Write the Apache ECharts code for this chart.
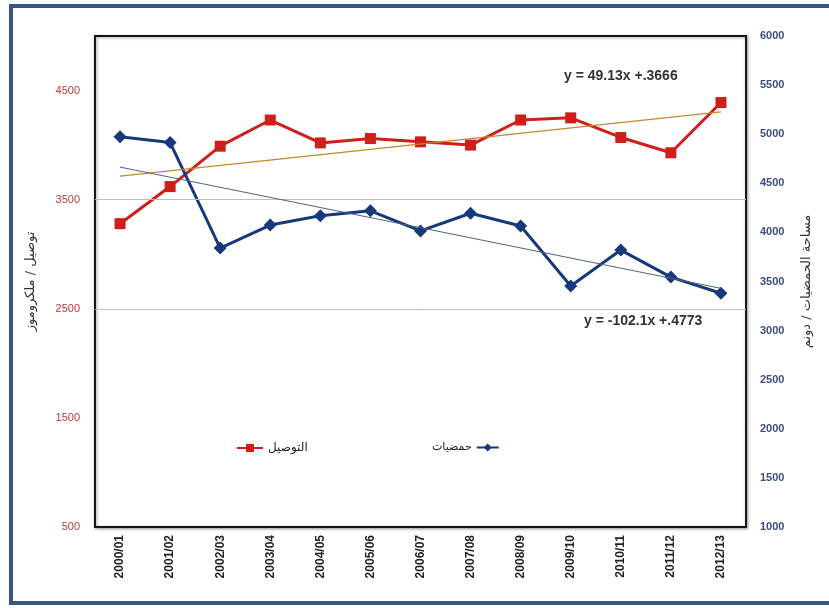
<!DOCTYPE html>
<html lang="ar">
<head>
<meta charset="UTF-8">
<title>التوصيل و حمضيات</title>
<script src="https://cdn.jsdelivr.net/npm/echarts@6/dist/echarts.min.js"></script>
<style>
  html, body { margin: 0; padding: 0; background: #fff; }
  #chart { width: 829px; height: 608px; }
</style>
</head>
<body>
<div id="chart"></div>
<script>
var seasons = ['2000/01', '2001/02', '2002/03', '2003/04', '2004/05', '2005/06', '2006/07',
               '2007/08', '2008/09', '2009/10', '2010/11', '2011/12', '2012/13'];
// التوصيل (left axis)
var conductivity = [3280, 3620, 3990, 4230, 4020, 4060, 4030, 4000, 4230, 4250, 4070, 3930, 4390];
// حمضيات (right axis)
var citrusArea = [4975, 4915, 3840, 4075, 4170, 4220, 4015, 4195, 4065, 3455, 3820, 3545, 3380];
// trend line end values (first and last season)
var conductivityTrend = [3715, 4305];
var citrusTrend = [4665, 3430];
var gridValues = [2500, 3500];

var chart = echarts.init(document.getElementById('chart'));
var arFont = 'DejaVu Sans';

var option = {
  backgroundColor: '#fff',
  animation: false,
  grid: {
    left: 95, right: 83, top: 36, bottom: 81,
    show: true, borderColor: '#151515', borderWidth: 2,
    shadowColor: 'rgba(0,0,0,0.35)', shadowBlur: 3, shadowOffsetX: 1, shadowOffsetY: 1,
    backgroundColor: '#fff'
  },
  graphic: [
    { type: 'rect', shape: { x: 11, y: 6, width: 840, height: 597 },
      style: { fill: 'none', stroke: '#3b5488', lineWidth: 4 }, z: 100 },
    { type: 'text', left: 564, top: 69,
      style: { text: 'y = 49.13x +.3666', font: 'bold 14px "Liberation Sans"', fill: '#333' } },
    { type: 'text', left: 584, top: 314,
      style: { text: 'y = -102.1x +.4773', font: 'bold 14px "Liberation Sans"', fill: '#333' } }
  ],
  legend: [
    { data: ['التوصيل'], left: 231, top: 437, align: 'left', itemWidth: 26, itemHeight: 10,
      itemGap: 4, textStyle: { fontFamily: arFont, fontSize: 12, color: '#222' } },
    { data: ['حمضيات'], left: 427, top: 437, align: 'right', itemWidth: 22, itemHeight: 10,
      itemGap: 3, textStyle: { fontFamily: arFont, fontSize: 11, color: '#222' } }
  ],
  xAxis: {
    type: 'category',
    data: seasons,
    boundaryGap: true,
    axisLine: { show: false },
    axisTick: { show: false },
    axisLabel: {
      rotate: 90, margin: 8, interval: 0,
      fontFamily: 'Liberation Sans', fontWeight: 'bold', fontSize: 12, color: '#222'
    }
  },
  yAxis: [
    {
      type: 'value', min: 500, max: 5000, interval: 500, position: 'left',
      name: 'توصيل / ملكروموز', nameLocation: 'middle', nameGap: 58, nameRotate: 90,
      nameTextStyle: { fontFamily: arFont, fontSize: 13, color: '#333' },
      axisLine: { show: false }, axisTick: { show: false }, splitLine: { show: false },
      axisLabel: {
        margin: 15, fontFamily: 'Liberation Sans', fontSize: 11, color: '#c0393b',
        formatter: function (v) { return (v - 500) % 1000 === 0 ? String(v) : ''; }
      }
    },
    {
      type: 'value', min: 1000, max: 6000, interval: 500, position: 'right',
      name: 'مساحة الحمضيات / دونم', nameLocation: 'middle', nameGap: 54, nameRotate: 90,
      nameTextStyle: { fontFamily: arFont, fontSize: 13, color: '#333' },
      axisLine: { show: false }, axisTick: { show: false }, splitLine: { show: false },
      axisLabel: {
        margin: 14, fontFamily: 'Liberation Sans', fontWeight: 'bold', fontSize: 11, color: '#3d4f80',
        formatter: function (v) { return String(v); }
      }
    }
  ],
  series: [
    {
      name: 'التوصيل',
      type: 'line',
      yAxisIndex: 0,
      data: conductivity,
      symbol: 'rect', symbolSize: 11,
      lineStyle: { color: '#cf1f1a', width: 3 },
      itemStyle: { color: '#cf1f1a' },
      z: 3,
      markLine: {
        silent: true, symbol: 'none', label: { show: false },
        data: gridValues.map(function (v) {
          return { yAxis: v, lineStyle: { color: '#bdbdbd', width: 1, type: 'solid' } };
        }).concat([[
          { coord: [0, conductivityTrend[0]], lineStyle: { color: '#c8862e', width: 1.3, type: 'solid' } },
          { coord: [seasons.length - 1, conductivityTrend[1]] }
        ]])
      }
    },
    {
      name: 'حمضيات',
      type: 'line',
      yAxisIndex: 1,
      data: citrusArea,
      symbol: 'diamond', symbolSize: 13,
      lineStyle: { color: '#17397c', width: 3 },
      itemStyle: { color: '#17397c' },
      z: 4,
      markLine: {
        silent: true, symbol: 'none', label: { show: false },
        data: [[
          { coord: [0, citrusTrend[0]], lineStyle: { color: '#4e6580', width: 1, type: 'solid' } },
          { coord: [seasons.length - 1, citrusTrend[1]] }
        ]]
      }
    }
  ]
};
chart.setOption(option);
</script>
</body>
</html>
